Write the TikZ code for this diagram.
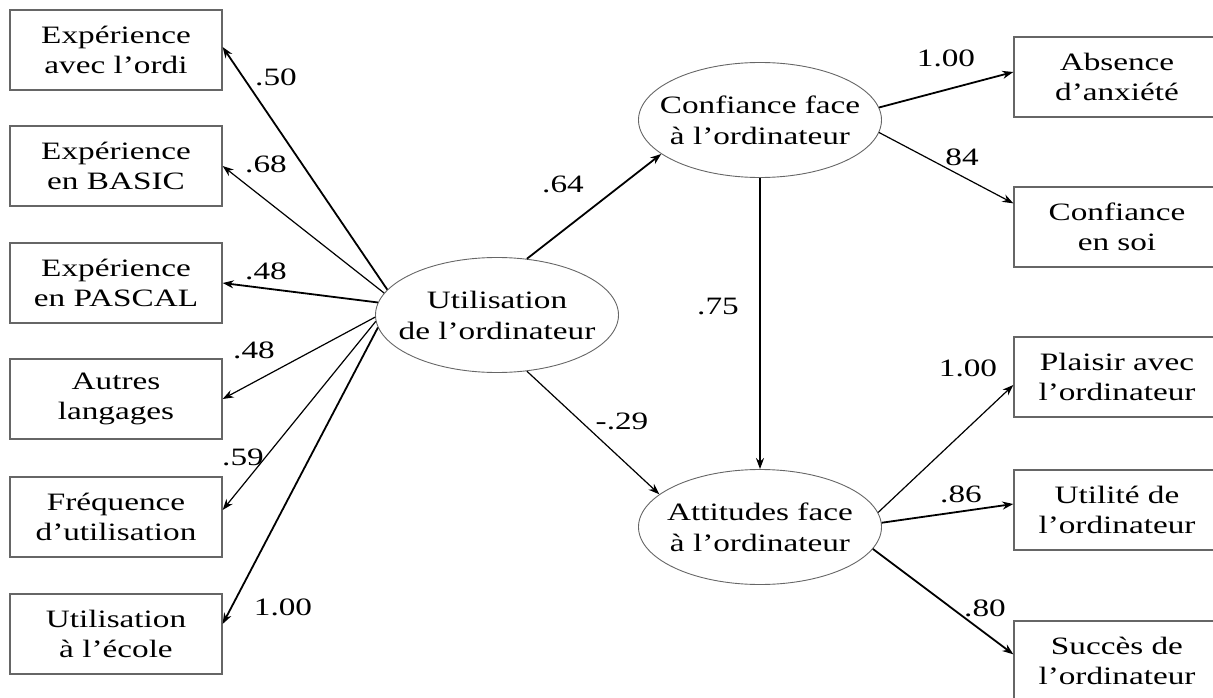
\documentclass[tikz,border=0pt]{standalone}
\usepackage{fontspec}
\setmainfont{Liberation Serif}[FakeStretch=1.33]
\usetikzlibrary{arrows.meta,shapes.geometric,calc}

\tikzset{
  var/.style={draw=black!60, line width=1.3pt, minimum width=212pt, minimum height=80pt,
    align=center, inner sep=0pt, font=\fontsize{25}{30}\selectfont},
  rvar/.style={var, minimum width=206pt},
  latent/.style={ellipse, draw=black!60, line width=0.9pt, minimum width=243pt, minimum height=115pt,
    inner xsep=-16pt, inner ysep=0pt, align=center, font=\fontsize{25}{31}\selectfont},
  coef/.style={inner sep=0pt, font=\fontsize{25}{28}\selectfont},
  path/.style={draw=black, line width=1.2pt, -{Stealth[length=11pt,width=8pt]}},
  heavy/.style={path, line width=1.8pt},
}

\begin{document}
\begin{tikzpicture}[x=1pt, y=-1pt]
  \useasboundingbox (0,0) rectangle (1213,698);
  \clip (0,0) rectangle (1213,698);

  % observed indicators of computer use
  \node[var] (b1) at (116,50)  {Expérience\\avec l’ordi};
  \node[var] (b2) at (116,166) {Expérience\\en BASIC};
  \node[var] (b3) at (116,283) {Expérience\\en PASCAL};
  \node[var] (b4) at (116,399) {Autres\\langages};
  \node[var] (b5) at (116,517) {Fréquence\\d’utilisation};
  \node[var] (b6) at (116,634) {Utilisation\\à l’école};

  % latent constructs
  \node[latent] (U) at (497,315) {Utilisation\\de l’ordinateur};
  \node[latent] (C) at (760,120) {Confiance face\\à l’ordinateur};
  \node[latent] (A) at (760,527) {Attitudes face\\à l’ordinateur};

  % indicators of confidence and attitudes
  \node[rvar] (ab) at (1117,77)  {Absence\\d’anxiété};
  \node[rvar] (cs) at (1117,227) {Confiance\\en soi};
  \node[rvar] (pl) at (1117,377) {Plaisir avec\\l’ordinateur};
  \node[rvar] (ut) at (1117,510) {Utilité de\\l’ordinateur};
  \node[rvar] (su) at (1117,661) {Succès de\\l’ordinateur};

  % loadings of computer use
  \draw[heavy] (U.167) -- ($(b1.east)+(0,-3)$);
  \draw[path]  (U.169) -- (b2.east);
  \draw[heavy] (U.174) -- (b3.east);
  \draw[path]  (U.181) -- (b4.east);
  \draw[path]  (U.183) -- ($(b5.east)+(0,-7)$);
  \draw[heavy] (U.186) -- ($(b6.east)+(0,-10)$);

  % structural paths
  \draw[heavy] (U.62) -- (C.199);
  \draw[path]  (U.-62) -- (A.162);
  \draw[heavy, line width=2.4pt] (C.south) -- (A.north);

  % loadings of confidence and attitudes
  \draw[heavy] (C.6) -- ($(ab.west)+(0,-5)$);
  \draw[path]  (C.-6) -- ($(cs.north west)+(0,17)$);
  \draw[path]  (A.7) -- ($(pl.west)+(0,8)$);
  \draw[heavy] (A.2) -- ($(ut.west)+(0,-6)$);
  \draw[heavy] (A.-11) -- ($(su.north west)+(0,34)$);

  % coefficients
  \node[coef] (l1) at (276,77)  {.50};
  \node[coef] (l2) at (266,164) {.68};
  \node[coef] (l3) at (266,271) {.48};
  \node[coef] (l4) at (254,350) {.48};
  \node[coef] (l5) at (243,457) {.59};
  \node[coef] (l6) at (283,607) {1.00};
  \node[coef] (l7) at (563,184) {.64};
  \node[coef] (l8) at (718,306) {.75};
  \node[coef] (l9) at (622,421) {-.29};
  \node[coef] (l10) at (946,58)  {1.00};
  \node[coef] (l11) at (962,157) {84};
  \node[coef] (l12) at (968,368) {1.00};
  \node[coef] (l13) at (961,494) {.86};
  \node[coef] (l14) at (985,608) {.80};
\end{tikzpicture}
\end{document}
